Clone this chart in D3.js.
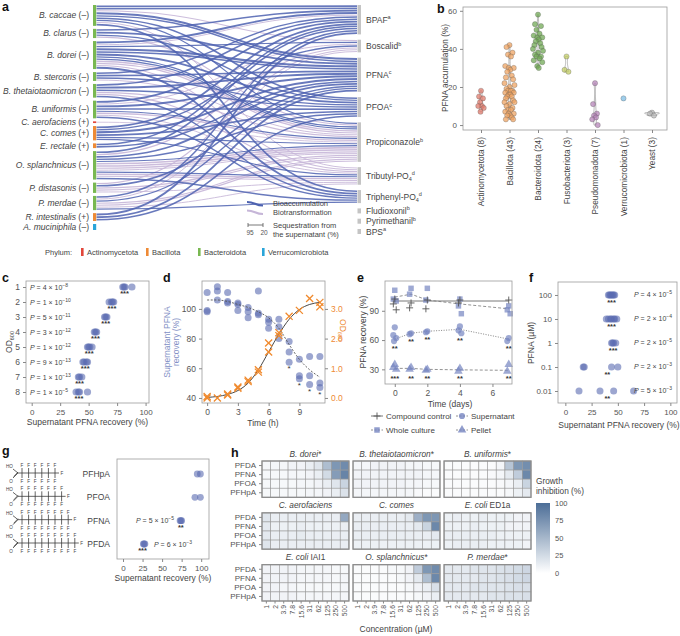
<!DOCTYPE html>
<html>
<head>
<meta charset="utf-8">
<script src="https://cdn.jsdelivr.net/npm/d3@7"></script>
<style>
  body { margin: 0; background: #fff; }
  svg text { font-family: "Liberation Sans", Arial, sans-serif; }
</style>
</head>
<body>
<svg id="fig" width="680" height="636"></svg>
<script>
// ---------------- panel a: species -> compound flows
const species = ["B. caccae","B. clarus","B. dorei","B. stercoris","B. thetaiotaomicron","B. uniformis","C. aerofaciens","C. comes","E. rectale","O. splanchnicus","P. distasonis","P. merdae","R. intestinalis","A. muciniphila"];
const speciesGram = ["–","–","–","–","–","–","+","+","+","–","–","–","+","–"];
const speciesPhylum = ["Bacteroidota","Bacteroidota","Bacteroidota","Bacteroidota","Bacteroidota","Bacteroidota","Actinomycetota","Bacillota","Bacillota","Bacteroidota","Bacteroidota","Bacteroidota","Bacillota","Verrucomicrobiota"];
const phyla = ["Actinomycetota","Bacillota","Bacteroidota","Verrucomicrobiota"];
const phylumColors = ["#e2463a","#ee8a35","#79b851","#2aa5d9"];
const compounds = ["BPAF","Boscalid","PFNA","PFOA","Propiconazole","Tributyl-PO4","Triphenyl-PO4","Fludioxonil","Pyrimethanil","BPS"];
const compoundSup = ["a","b","c","c","b","d","d","b","b","a"];
// [species, compound, type (acc = bioaccumulation, tra = biotransformation), % sequestered]
const flows = [
  ["B. caccae","BPAF","acc",70],["B. caccae","BPAF","acc",50],["B. caccae","Boscalid","tra",40],["B. caccae","PFNA","acc",80],["B. caccae","PFNA","acc",55],["B. caccae","PFOA","acc",60],["B. caccae","Propiconazole","acc",45],["B. caccae","Tributyl-PO4","tra",35],["B. caccae","Triphenyl-PO4","acc",65],
  ["B. clarus","BPAF","acc",60],["B. clarus","PFNA","acc",70],["B. clarus","PFOA","acc",50],["B. clarus","Propiconazole","tra",40],
  ["B. dorei","BPAF","acc",75],["B. dorei","BPAF","tra",35],["B. dorei","Boscalid","acc",45],["B. dorei","PFNA","acc",85],["B. dorei","PFNA","acc",60],["B. dorei","PFOA","acc",70],["B. dorei","Propiconazole","tra",55],["B. dorei","Propiconazole","tra",45],["B. dorei","Propiconazole","acc",50],["B. dorei","Propiconazole","acc",45],["B. dorei","Tributyl-PO4","tra",40],["B. dorei","Triphenyl-PO4","acc",70],
  ["B. stercoris","BPAF","acc",55],["B. stercoris","PFNA","acc",65],["B. stercoris","PFOA","acc",50],["B. stercoris","Propiconazole","tra",35],
  ["B. thetaiotaomicron","BPAF","acc",60],["B. thetaiotaomicron","PFNA","acc",70],["B. thetaiotaomicron","PFOA","acc",55],["B. thetaiotaomicron","Propiconazole","tra",45],["B. thetaiotaomicron","Tributyl-PO4","tra",40],["B. thetaiotaomicron","Triphenyl-PO4","acc",55],
  ["B. uniformis","BPAF","acc",65],["B. uniformis","Boscalid","tra",35],["B. uniformis","PFNA","acc",75],["B. uniformis","PFOA","acc",60],["B. uniformis","Propiconazole","tra",50],["B. uniformis","Propiconazole","acc",40],["B. uniformis","Tributyl-PO4","tra",35],["B. uniformis","Triphenyl-PO4","acc",50],
  ["C. aerofaciens","Propiconazole","tra",30],
  ["C. comes","BPAF","acc",70],["C. comes","Boscalid","acc",50],["C. comes","PFNA","acc",80],["C. comes","PFOA","acc",65],["C. comes","Propiconazole","acc",45],["C. comes","Tributyl-PO4","acc",40],
  ["E. rectale","BPAF","acc",55],["E. rectale","PFNA","acc",60],
  ["O. splanchnicus","BPAF","acc",60],["O. splanchnicus","Boscalid","tra",45],["O. splanchnicus","PFNA","acc",70],["O. splanchnicus","PFOA","acc",55],["O. splanchnicus","Propiconazole","tra",60],["O. splanchnicus","Propiconazole","tra",55],["O. splanchnicus","Propiconazole","tra",45],["O. splanchnicus","Propiconazole","tra",35],["O. splanchnicus","Propiconazole","acc",40],["O. splanchnicus","Tributyl-PO4","tra",50],["O. splanchnicus","Tributyl-PO4","tra",40],["O. splanchnicus","Tributyl-PO4","acc",45],["O. splanchnicus","Triphenyl-PO4","acc",55],
  ["P. distasonis","Boscalid","tra",40],["P. distasonis","PFNA","acc",60],["P. distasonis","Propiconazole","tra",50],["P. distasonis","Propiconazole","tra",40],["P. distasonis","Tributyl-PO4","tra",35],
  ["P. merdae","BPAF","acc",55],["P. merdae","Boscalid","tra",35],["P. merdae","PFNA","acc",50],["P. merdae","Propiconazole","tra",45],["P. merdae","Propiconazole","tra",40],["P. merdae","Tributyl-PO4","tra",35],["P. merdae","Triphenyl-PO4","acc",45],
  ["R. intestinalis","BPAF","acc",75],["R. intestinalis","PFNA","acc",70],["R. intestinalis","PFOA","acc",60]
];

// ---------------- panel b: PFNA accumulation by phylum
const bGroups = ["Actinomycetota","Bacillota","Bacteroidota","Fusobacteriota","Pseudomonadota","Verrucomicrobiota","Yeast"];
const bColors = ["#e07b6c","#efa463","#72aa55","#c3cd66","#b584b8","#7fbde4","#b9b9b9"];
const bActino = [18,15,14,12,10,10,9,7];
const bBacillota = [42,41,38,37,36,31,30,30,29,28,26,25,24,22,21,20,19,18,18,18,17,17,16,16,15,15,14,13,12,12,11,10,9,8,8,7,6,6,5,5,4,3,3];
const bBacteroidota = [58,53,52,50,48,47,46,46,45,44,43,42,41,40,39,38,37,36,36,35,34,33,31,30];
const bFuso = [36,29,28];
const bPseudo = [22,11,6,5,4,3,0];
const bVerruco = [14];
const bYeast = [6.5,6,5];
const bValues = [bActino,bBacillota,bBacteroidota,bFuso,bPseudo,bVerruco,bYeast];

// ---------------- panel c: recovery per OD600 harvest
const cOD = ["1","2","3","4","5","6","7","8"];
const cRecovery = [[80,81,82,88],[68,70,71,72],[64,65,66],[55,56,57],[49,50,51,53],[45,46,48,49],[41,42,44],[39,41,42,49]];
const cP = [["4","8"],["1","10"],["5","11"],["3","12"],["1","12"],["9","13"],["1","13"],["1","5"]];

// ---------------- panel d: time course
const dHours = [0,1,2,3,4,5,6,7,8,9,10,11];
const dSupernatant = [[111,99,98],[115,112,106],[111,105,104],[104,103,99],[101,98,94],[112,97,96],[93,91,87],[93,88,80],[78,71,64],[66,55,53],[68,55,49],[68,50,47]];
const dOD = [[0.05,0.0],[0.0],[0.13,0.1],[0.37,0.33],[0.6,0.55],[0.95,0.87],[1.85,1.55],[2.2,2.1],[2.75],[2.95],[3.35],[3.22,3.07]];
const dFitSup = [106,106,105,103,101,98,94,87,76,66,59,54];
const dFitOD = [0.02,0.05,0.12,0.25,0.5,0.95,1.55,2.15,2.65,2.98,3.15,3.22];
const dStarHours = [8,9,10,11];

// ---------------- panel e: fractions over days
const eDays = [0,1,2,4,7];
const eControl = [[102,97,91],[98,93],[101,92],[101,98],[101]];
const eWhole = [[111,102,100],[113,107],[113,101],[102,95,87],[95,91,87]];
const eSuper = [[73,65,62,59],[67,66],[69,68],[74,70,67],[62,59]];
const ePellet = [[35,32,30],[32,30],[30,29],[31,28],[35,28]];
const eWholeLine = [104,107,101,97,92];
const eSuperLine = [61,67,69,71,61];
const ePelletLine = [31,31,30,29.5,29];
const eSuperStars = ["**","**","**","**","**"];
const ePelletStars = ["***","**","**","**","**"];

// ---------------- panel f: concentration series
const fConc = [100,10,1,0.1,0.01];
const fRecovery = [[41,42,43,44,45,46,47],[39,41,43,44,46,47,49],[44,45,46,48],[17,18,44,50],[13,33,46,65]];
const fStars = ["***","***","***","**","**"];
const fP = [["4","5"],["2","4"],["2","5"],["2","3"],["5","3"]];

// ---------------- panel g: chain length
const gAcids = ["PFHpA","PFOA","PFNA","PFDA"];
const gCarbons = [7,8,9,10];
const gRecovery = [[95,99],[92,99],[73,74,75],[26,27,28]];

// ---------------- panel h: growth inhibition
const hConc = ["1","2","3.9","7.8","15.6","31","62","125","250","500"];
const hRows = ["PFDA","PFNA","PFOA","PFHpA"];
const hTitles = [["B. dorei","*"],["B. thetaiotaomicron","*"],["B. uniformis","*"],["C. aerofaciens",""],["C. comes",""],["E. coli"," ED1a"],["E. coli"," IAI1"],["O. splanchnicus","*"],["P. merdae","*"]];
const hValues = [
  [[6,6,6,8,8,12,18,45,72,80],[5,5,5,6,6,8,12,25,68,85],[5,5,5,5,6,6,8,12,18,30],[5,5,5,5,5,6,6,8,12,20]],
  [[6,6,8,8,8,8,6,6,5,5],[8,8,8,8,8,8,8,8,6,6],[8,8,8,8,8,8,6,6,5,5],[6,6,6,6,6,6,6,4,3,3]],
  [[3,3,3,3,3,3,6,40,72,78],[3,3,3,3,3,4,6,15,35,82],[3,3,3,3,3,3,4,6,12,30],[3,3,3,3,3,3,3,5,10,15]],
  [[18,12,12,12,12,12,12,12,12,60],[15,10,10,10,12,10,10,10,10,12],[15,12,12,12,14,12,12,12,12,12],[18,12,12,12,12,12,12,12,12,12]],
  [[12,12,12,12,12,12,15,55,72,72],[12,12,12,12,12,12,12,15,30,82],[12,12,12,12,12,12,12,12,12,15],[10,10,10,10,10,10,10,10,10,10]],
  [[10,12,10,10,12,10,10,10,8,8],[10,10,10,12,10,10,10,8,8,8],[12,12,12,12,12,12,10,10,10,10],[10,12,12,12,12,10,10,10,10,8]],
  [[8,8,8,8,6,6,6,6,5,5],[8,8,8,8,6,6,6,6,5,6],[8,8,6,6,5,5,5,5,5,6],[8,8,8,8,6,6,6,6,6,6]],
  [[3,3,3,3,5,5,8,35,72,80],[3,3,3,3,3,5,8,15,45,82],[3,3,3,3,3,3,5,8,12,22],[3,3,3,3,3,3,3,5,8,12]],
  [[15,15,15,18,18,18,20,22,25,28],[15,15,15,15,18,18,20,22,25,28],[15,15,15,18,18,18,18,20,22,22],[15,15,15,15,15,18,18,20,20,22]]
];
const hLegendTicks = [0,25,50,75,100];

// ---------------- helpers
const FONT = '"Liberation Sans", Arial, sans-serif';
const INK = "#444";
const DOT = "#5a6bb0";
const svg = d3.select("#fig");
svg.append("rect").attr("width", 680).attr("height", 636).attr("fill", "#fff");
const jit = [0,-2.4,2.4,-1.2,1.2,-3.4,3.4,-0.6,0.6,-1.8,1.8,-2.9,2.9,-4,4];

function letter(x, y, t) {
  svg.append("text").attr("x", x).attr("y", y).attr("font-size", 12.5)
    .attr("font-weight", "bold").attr("fill", "#111").text(t);
}
function txt(g, x, y, s, size, anchor, color) {
  return g.append("text").attr("x", x).attr("y", y).attr("font-size", size)
    .attr("text-anchor", anchor || "start").attr("fill", color || INK).text(s);
}
function frame(x0, y0, x1, y1) {
  svg.append("rect").attr("x", x0).attr("y", y0).attr("width", x1 - x0).attr("height", y1 - y0)
    .attr("fill", "none").attr("stroke", "#9c9c9c").attr("stroke-width", 0.8);
}
function axis(gen, tx, ty, size, color) {
  const g = svg.append("g").attr("transform", `translate(${tx},${ty})`).call(gen);
  g.select(".domain").remove();
  g.attr("font-family", FONT).attr("font-size", size || 8);
  g.selectAll(".tick line").attr("stroke", "#888");
  g.selectAll(".tick text").attr("fill", color || "#555");
  return g;
}
function pLabel(g, x, y, m, e, anchor) {
  const t = g.append("text").attr("x", x).attr("y", y).attr("font-size", 7)
    .attr("text-anchor", anchor || "start").attr("fill", INK);
  t.append("tspan").attr("font-style", "italic").text("P");
  t.append("tspan").text(" = " + m + " × 10");
  t.append("tspan").attr("dy", -3).attr("font-size", 5).text("−" + e);
}
function stars(g, x, y, s) {
  txt(g, x, y, s, 7.5, "middle", "#333").attr("font-weight", "bold");
}
function vLabel(g, x, y, s, size, rot, color) {
  return g.append("text").attr("transform", `translate(${x},${y}) rotate(${rot})`)
    .attr("text-anchor", "middle").attr("font-size", size).attr("fill", color || INK).text(s);
}

// =============== panel a ===============
(function () {
  const g = svg.append("g");
  letter(2, 11, "a");
  const xL = 96.5, xR = 357;
  const wScale = d3.scaleLinear().domain([20, 95]).range([0.6, 2.4]);
  const links = flows.map(([s, c, t, v]) => ({ s, c, t, v, w: wScale(v) }));

  // stack links into nodes; node padding fixed, gap between links fills the rest
  function layoutSide(names, key, otherOrder, y0, y1, pad, minH, yKey) {
    const groups = names.map(n => links.filter(l => key(l) === n)
      .sort((a, b) => otherOrder(a) - otherOrder(b) || d3.ascending(a.t, b.t)));
    const empty = groups.filter(gr => !gr.length).length;
    const lg = (y1 - y0 - pad * (names.length - 1) - empty * minH - d3.sum(links, l => l.w)) / links.length;
    let y = y0;
    return names.map((n, i) => {
      const h = groups[i].length ? d3.sum(groups[i], l => l.w + lg) : minH;
      const node = { name: n, y0: y, y1: y + h };
      let yy = y + lg / 2;
      groups[i].forEach(l => { l[yKey] = yy + l.w / 2; yy += l.w + lg; });
      y += h + pad;
      return node;
    });
  }
  const left = layoutSide(species, l => l.s, l => compounds.indexOf(l.c), 5, 230, 3, 6, "ys");
  const right = layoutSide(compounds, l => l.c, l => species.indexOf(l.s), 5, 234, 5.3, 5, "yt");

  const link = d3.linkHorizontal().x(d => d[0]).y(d => d[1]);
  const ordered = links.filter(l => l.t === "tra").concat(links.filter(l => l.t === "acc"));
  g.selectAll("path.flow").data(ordered).enter().append("path")
    .attr("d", l => link({ source: [xL, l.ys], target: [xR, l.yt] }))
    .attr("fill", "none")
    .attr("stroke", l => l.t === "acc" ? "#4d62b0" : "#c6b6d8")
    .attr("stroke-opacity", l => l.t === "acc" ? 0.85 : 0.9)
    .attr("stroke-width", l => l.w);

  // species bars + labels
  left.forEach((n, i) => {
    g.append("rect").attr("x", 93).attr("y", n.y0).attr("width", 3.2).attr("height", n.y1 - n.y0)
      .attr("fill", phylumColors[phyla.indexOf(speciesPhylum[i])]);
    const t = g.append("text").attr("x", 89).attr("y", (n.y0 + n.y1) / 2 + 3)
      .attr("text-anchor", "end").attr("font-size", 8.5).attr("fill", INK);
    t.append("tspan").attr("font-style", "italic").text(n.name);
    t.append("tspan").text(" (" + speciesGram[i] + ")");
  });
  // compound bars + labels
  right.forEach((n, i) => {
    g.append("rect").attr("x", 357.5).attr("y", n.y0).attr("width", 3.5).attr("height", n.y1 - n.y0)
      .attr("fill", "#c4c4c4");
    const t = g.append("text").attr("x", 366).attr("y", (n.y0 + n.y1) / 2 + 3)
      .attr("font-size", 8.5).attr("fill", INK);
    if (n.name.endsWith("PO4")) {
      t.append("tspan").text(n.name.slice(0, -1));
      t.append("tspan").attr("dy", 2).attr("font-size", 5.5).text("4");
      t.append("tspan").attr("dy", -6).attr("font-size", 5.5).text(compoundSup[i]);
    } else {
      t.append("tspan").text(n.name);
      t.append("tspan").attr("dy", -3.5).attr("font-size", 5.5).text(compoundSup[i]);
    }
  });

  // flow legend
  g.append("path").attr("d", link({ source: [247, 202], target: [263, 205.5] }))
    .attr("fill", "none").attr("stroke", "#4d62b0").attr("stroke-width", 2);
  g.append("path").attr("d", link({ source: [247, 210.5], target: [263, 214] }))
    .attr("fill", "none").attr("stroke", "#c6b6d8").attr("stroke-width", 2);
  txt(g, 273, 206, "Bioaccumulation", 7.5);
  txt(g, 273, 215, "Biotransformation", 7.5);
  g.append("path").attr("d", "M248,223V227M248,225H263M263,223V227").attr("stroke", "#555").attr("stroke-width", 0.8).attr("fill", "none");
  txt(g, 250, 235, "95", 6.5, "middle", "#555");
  txt(g, 264, 235, "20", 6.5, "middle", "#555");
  txt(g, 273, 228, "Sequestration from", 7.5);
  txt(g, 273, 237, "the supernatant (%)", 7.5);

  // phylum legend
  txt(g, 45, 255, "Phylum:", 7.5);
  const lx = [81, 146, 198, 262];
  phyla.forEach((p, i) => {
    g.append("rect").attr("x", lx[i]).attr("y", 248).attr("width", 2.6).attr("height", 8).attr("fill", phylumColors[i]);
    txt(g, lx[i] + 6, 255, p, 7.5);
  });
})();

// =============== panel b ===============
(function () {
  const g = svg.append("g");
  letter(437, 13, "b");
  const x = d3.scalePoint().domain(bGroups).range([481, 652]);
  const y = d3.scaleLinear().domain([-2.6, 62]).range([130, 7]);
  frame(463, 7, 667, 130);
  axis(d3.axisLeft(y).tickValues([0, 20, 40, 60]).tickSize(3), 463, 0, 8);
  axis(d3.axisBottom(x).tickSize(3).tickFormat(() => ""), 0, 130, 8);
  bGroups.forEach((gr, i) => {
    g.append("text").attr("transform", `translate(${x(gr) + 3},137) rotate(-90)`)
      .attr("text-anchor", "end").attr("font-size", 8.3).attr("fill", INK)
      .text(gr + " (" + bValues[i].length + ")");
  });
  vLabel(g, 448, 68, "PFNA accumulation (%)", 8.3, -90);

  // violins (gaussian kde, ggplot-like bandwidth, area scaled)
  const dens = bValues.map(vals => {
    if (vals.length < 2) return null;
    const sorted = vals.slice().sort(d3.ascending);
    const sd = d3.deviation(vals);
    const iqr = (d3.quantile(sorted, 0.75) - d3.quantile(sorted, 0.25)) / 1.34;
    const bw = 0.9 * Math.min(sd, iqr || sd) * Math.pow(vals.length, -0.2);
    const lo = d3.min(vals), hi = d3.max(vals);
    return d3.range(0, 41).map(k => {
      const v = lo + (hi - lo) * k / 40;
      const d = d3.mean(vals, u => Math.exp(-0.5 * ((v - u) / bw) ** 2)) / (bw * Math.sqrt(2 * Math.PI));
      return { v, d };
    });
  });
  const dMax = d3.max(dens, ds => ds ? d3.max(ds, p => p.d) : 0);
  dens.forEach((ds, i) => {
    if (!ds) return;
    const cx = x(bGroups[i]);
    g.append("path").datum(ds)
      .attr("d", d3.area().y(p => y(p.v)).x0(p => cx - 7 * p.d / dMax - 0.4).x1(p => cx + 7 * p.d / dMax + 0.4).curve(d3.curveBasis))
      .attr("fill", "#fff").attr("stroke", "#9a9a9a").attr("stroke-width", 0.7);
  });
  bValues.forEach((vals, i) => {
    const cx = x(bGroups[i]);
    const spread = vals.length > 20 ? 1.25 : 0.8;
    g.selectAll(null).data(vals).enter().append("circle")
      .attr("cx", (v, k) => cx + jit[k % jit.length] * spread)
      .attr("cy", v => y(v)).attr("r", 2.6)
      .attr("fill", bColors[i]).attr("fill-opacity", 0.75)
      .attr("stroke", "#555").attr("stroke-width", 0.3);
  });
})();

// =============== panel c ===============
(function () {
  const g = svg.append("g");
  letter(2, 282, "c");
  const x = d3.scaleLinear().domain([-5, 103]).range([26, 149]);
  const y = d3.scalePoint().domain(cOD).range([287, 392]);
  frame(26, 281, 149, 403);
  axis(d3.axisBottom(x).tickValues([0, 25, 50, 75, 100]).tickSize(3), 0, 403, 8);
  axis(d3.axisLeft(y).tickSize(3), 26, 0, 8.5);
  txt(g, 87.5, 425, "Supernatant PFNA recovery (%)", 8.5, "middle");
  const ol = g.append("text").attr("transform", "translate(12,342) rotate(-90)").attr("text-anchor", "middle").attr("font-size", 8.5).attr("fill", INK);
  ol.append("tspan").text("OD");
  ol.append("tspan").attr("dy", 2).attr("font-size", 5.5).text("600");
  cOD.forEach((od, i) => {
    const vals = cRecovery[i];
    g.selectAll(null).data(vals).enter().append("circle")
      .attr("cx", v => x(v)).attr("cy", y(od)).attr("r", 3.6)
      .attr("fill", DOT).attr("fill-opacity", 0.6);
    stars(g, x(d3.median(vals)), y(od) + 9, "***");
    pLabel(g, 30, y(od) + 2.5, cP[i][0], cP[i][1]);
  });
})();

// =============== panel d ===============
(function () {
  const g = svg.append("g");
  letter(163, 282, "d");
  const x = d3.scaleLinear().domain([-0.5, 11.5]).range([202, 325]);
  const yL = d3.scaleLinear().domain([36.6, 118.8]).range([403, 281]);
  const yR = d3.scaleLinear().domain([(36.6 - 40) / 20, (118.8 - 40) / 20]).range([403, 281]);
  frame(202, 281, 325, 403);
  axis(d3.axisBottom(x).tickValues([0, 3, 6, 9]).tickSize(3), 0, 403, 8.5);
  axis(d3.axisLeft(yL).tickValues([40, 60, 80, 100]).tickSize(3), 202, 0, 8.5);
  axis(d3.axisRight(yR).tickValues([0, 1, 2, 3]).tickSize(3), 325, 0, 8.5, "#ee8a35");
  txt(g, 263, 426, "Time (h)", 8.5, "middle");
  vLabel(g, 170, 342, "Supernatant PFNA", 8.5, -90, "#8391c6");
  vLabel(g, 179, 342, "recovery (%)", 8.5, -90, "#8391c6");
  const od = g.append("text").attr("transform", "translate(340,330) rotate(90)").attr("text-anchor", "middle").attr("font-size", 8.5).attr("fill", "#ee8a35");
  od.append("tspan").text("OD");
  od.append("tspan").attr("dy", 2).attr("font-size", 5.5).text("600");

  dHours.forEach((h, i) => {
    g.selectAll(null).data(dSupernatant[i]).enter().append("circle")
      .attr("cx", x(h)).attr("cy", v => yL(v)).attr("r", 3.5)
      .attr("fill", DOT).attr("fill-opacity", 0.6);
  });
  g.append("path").datum(dFitSup)
    .attr("d", d3.line().x((v, i) => x(dHours[i])).y(v => yL(v)).curve(d3.curveMonotoneX))
    .attr("fill", "none").attr("stroke", "#555").attr("stroke-width", 0.9).attr("stroke-dasharray", "2,1.6");
  g.append("path").datum(dFitOD)
    .attr("d", d3.line().x((v, i) => x(dHours[i])).y(v => yR(v)).curve(d3.curveMonotoneX))
    .attr("fill", "none").attr("stroke", "#333").attr("stroke-width", 0.9);
  dHours.forEach((h, i) => {
    g.selectAll(null).data(dOD[i]).enter().append("path")
      .attr("transform", v => `translate(${x(h)},${yR(v)})`)
      .attr("d", d3.symbol(d3.symbolX, 34)())
      .attr("fill", "none").attr("stroke", "#f08a2e").attr("stroke-width", 1.3);
  });
  dStarHours.forEach(h => {
    const i = dHours.indexOf(h);
    txt(g, x(h), yL(d3.min(dSupernatant[i])) + 9, "*", 8, "middle", "#333");
  });
})();

// =============== panel e ===============
(function () {
  const g = svg.append("g");
  letter(357, 282, "e");
  const x = d3.scaleLinear().domain([-0.6, 7.2]).range([385, 512]);
  const y = d3.scaleLinear().domain([15, 120.5]).range([384, 281]);
  frame(385, 281, 512, 384);
  axis(d3.axisBottom(x).tickValues([0, 2, 4, 6]).tickSize(3), 0, 384, 8.5);
  axis(d3.axisLeft(y).tickValues([30, 60, 90]).tickSize(3), 385, 0, 8.5);
  txt(g, 450, 407, "Time (days)", 8.5, "middle");
  vLabel(g, 366, 332, "PFNA recovery (%)", 8.5, -90);
  const col = "#7584c0";
  const line = d3.line().x((v, i) => x(eDays[i])).y(v => y(v));
  g.append("path").datum(eDays.map(() => 100)).attr("d", line).attr("fill", "none").attr("stroke", "#555").attr("stroke-width", 0.8);
  g.append("path").datum(eWholeLine).attr("d", line).attr("fill", "none").attr("stroke", "#777").attr("stroke-width", 0.8).attr("stroke-dasharray", "3,2");
  g.append("path").datum(eSuperLine).attr("d", line).attr("fill", "none").attr("stroke", "#777").attr("stroke-width", 0.9).attr("stroke-dasharray", "1,1.5");
  g.append("path").datum(ePelletLine).attr("d", line).attr("fill", "none").attr("stroke", "#777").attr("stroke-width", 0.8).attr("stroke-dasharray", "3,2");
  const sq = d3.symbol(d3.symbolSquare, 30)();
  const ci = d3.symbol(d3.symbolCircle, 30)();
  const tr = d3.symbol(d3.symbolTriangle, 32)();
  const plus = "M-3.5,0H3.5M0,-3.5V3.5";
  function pts(data, shape, fill, stroke) {
    eDays.forEach((d, i) => {
      g.selectAll(null).data(data[i]).enter().append("path")
        .attr("transform", (v, k) => `translate(${x(d) + jit[k % 5] * 0.6},${y(v)})`)
        .attr("d", shape)
        .attr("fill", fill).attr("fill-opacity", 0.7)
        .attr("stroke", stroke || "none").attr("stroke-width", 0.9);
    });
  }
  pts(eWhole, sq, col);
  pts(eSuper, ci, col);
  pts(ePellet, tr, col);
  pts(eControl, plus, "none", "#555");
  eDays.forEach((d, i) => {
    stars(g, x(d), y(d3.min(eSuper[i])) + 10, eSuperStars[i]);
    stars(g, x(d), 381, ePelletStars[i]);
  });
  // legend
  const items = [["Compound control", plus, 377, 419, true], ["Whole culture", sq, 377, 433], ["Supernatant", ci, 462, 419], ["Pellet", tr, 462, 433]];
  items.forEach(([label, shape, lx, ly, isCtl]) => {
    g.append("line").attr("x1", lx - 6).attr("x2", lx + 6).attr("y1", ly - 3).attr("y2", ly - 3)
      .attr("stroke", isCtl ? "#555" : "#777").attr("stroke-width", 0.8).attr("stroke-dasharray", isCtl ? null : "2,1.5");
    g.append("path").attr("transform", `translate(${lx},${ly - 3})`).attr("d", shape)
      .attr("fill", isCtl ? "none" : col).attr("fill-opacity", 0.8)
      .attr("stroke", isCtl ? "#555" : "none").attr("stroke-width", 0.9);
    txt(g, lx + 9, ly, label, 8);
  });
})();

// =============== panel f ===============
(function () {
  const g = svg.append("g");
  letter(529, 282, "f");
  const x = d3.scaleLinear().domain([-7, 105]).range([558, 675.6]);
  const y = d3.scaleLog().domain([0.00316, 347]).range([403, 282]);
  frame(558, 282, 677, 403);
  axis(d3.axisBottom(x).tickValues([0, 25, 50, 75, 100]).tickSize(3), 0, 403, 8);
  axis(d3.axisLeft(y).tickValues(fConc).tickFormat(d => String(d)).tickSize(3), 558, 0, 8);
  txt(g, 619, 428, "Supernatant PFNA recovery (%)", 8.5, "middle");
  vLabel(g, 534, 343, "PFNA (µM)", 8.5, -90);
  fConc.forEach((c, i) => {
    g.selectAll(null).data(fRecovery[i]).enter().append("circle")
      .attr("cx", v => x(v)).attr("cy", y(c)).attr("r", 3.5)
      .attr("fill", DOT).attr("fill-opacity", 0.6);
    const sx = i < 3 ? x(d3.median(fRecovery[i])) : x(40);
    stars(g, sx, y(c) + 10, fStars[i]);
    pLabel(g, 634, y(c) + 2.5, fP[i][0], fP[i][1]);
  });
})();

// =============== panel g ===============
(function () {
  const g = svg.append("g");
  letter(2, 455, "g");
  const x = d3.scaleLinear().domain([-7.7, 110]).range([117, 209]);
  const y = d3.scalePoint().domain(gAcids).range([474, 544]);
  frame(117, 459, 209, 559);
  axis(d3.axisBottom(x).tickValues([0, 25, 50, 75, 100]).tickSize(3), 0, 559, 8);
  txt(g, 163, 581, "Supernatant recovery (%)", 8.5, "middle");
  gAcids.forEach((name, i) => {
    const cy = y(name);
    txt(g, 110, cy + 3, name, 8.5, "end");
    g.selectAll(null).data(gRecovery[i]).enter().append("circle")
      .attr("cx", v => x(v)).attr("cy", cy).attr("r", 3.4)
      .attr("fill", DOT).attr("fill-opacity", 0.6);
    // simplified skeletal structure
    const n = gCarbons[i] - 1, dx = 6.6, x0 = 18, yy = cy - 1;
    const xe = x0 + 4 + (n - 1) * dx + 4;
    let d = `M13,${yy - 4}L${x0},${yy}M13,${yy + 5}L${x0},${yy}M13.8,${yy + 3.5}L${x0},${yy - 1}M${x0},${yy}H${xe}`;
    for (let k = 0; k < n; k++) {
      const cx = x0 + 4 + k * dx;
      d += `M${cx},${yy - 5}V${yy + 5}`;
      txt(g, cx, yy - 6, "F", 4.6, "middle", "#444");
      txt(g, cx, yy + 10, "F", 4.6, "middle", "#444");
    }
    g.append("path").attr("d", d).attr("stroke", "#333").attr("stroke-width", 0.75).attr("fill", "none");
    txt(g, xe + 2.8, yy + 1.7, "F", 4.6, "middle", "#444");
    txt(g, 9.5, yy - 5, "HO", 4.6, "middle", "#444");
    txt(g, 11, yy + 9.5, "O", 4.6, "middle", "#444");
  });
  pLabel(g, 174, y("PFNA") + 2.5, "5", "5", "end");
  stars(g, x(74), y("PFNA") + 9, "**");
  pLabel(g, 154, y("PFDA") + 2.5, "6", "3");
  stars(g, x(25), y("PFDA") + 9, "***");
})();

// =============== panel h ===============
(function () {
  const g = svg.append("g");
  letter(231, 457, "h");
  const hColor = d3.scaleLinear().domain([0, 100]).range(["#ffffff", "#4c6e97"]);
  const bx = d3.scaleBand().domain([0, 1, 2]).range([262, 531]).paddingInner(0.045);
  const by = d3.scaleBand().domain([0, 1, 2]).range([461, 601]).paddingInner(0.3);
  hTitles.forEach((title, k) => {
    const c = k % 3, r = Math.floor(k / 3);
    const x0 = bx(c), y0 = by(r);
    const cx = d3.scaleBand().domain(hConc).range([x0, x0 + bx.bandwidth()]);
    const ry = d3.scaleBand().domain(hRows).range([y0, y0 + by.bandwidth()]);
    hRows.forEach((row, ri) => {
      g.selectAll(null).data(hValues[k][ri]).enter().append("rect")
        .attr("x", (v, j) => cx(hConc[j])).attr("y", ry(row))
        .attr("width", cx.bandwidth()).attr("height", ry.bandwidth())
        .attr("fill", v => hColor(v)).attr("stroke", "#9b9b9b").attr("stroke-width", 0.6);
    });
    g.append("rect").attr("x", x0).attr("y", y0).attr("width", bx.bandwidth()).attr("height", by.bandwidth())
      .attr("fill", "none").attr("stroke", "#8c8c8c").attr("stroke-width", 1.3);
    const t = g.append("text").attr("x", x0 + bx.bandwidth() / 2).attr("y", y0 - 4.5)
      .attr("text-anchor", "middle").attr("font-size", 8.3).attr("fill", INK);
    t.append("tspan").attr("font-style", "italic").text(title[0]);
    if (title[1]) t.append("tspan").text(title[1]);
    if (c === 0) {
      axis(d3.axisLeft(ry).tickSize(3), x0, 0, 8);
    }
    if (r === 2) {
      hConc.forEach(cc => {
        g.append("line").attr("x1", cx(cc) + cx.bandwidth() / 2).attr("x2", cx(cc) + cx.bandwidth() / 2)
          .attr("y1", y0 + by.bandwidth()).attr("y2", y0 + by.bandwidth() + 2.5).attr("stroke", "#888");
        g.append("text").attr("transform", `translate(${cx(cc) + cx.bandwidth() / 2 + 2.5},${y0 + by.bandwidth() + 4}) rotate(-90)`)
          .attr("text-anchor", "end").attr("font-size", 6.8).attr("fill", "#555").text(cc);
      });
    }
  });
  txt(g, 396, 632, "Concentration (µM)", 8.5, "middle");

  // legend
  txt(g, 536, 484, "Growth", 8.3);
  txt(g, 536, 494, "inhibition (%)", 8.3);
  const grad = svg.append("defs").append("linearGradient").attr("id", "hgrad")
    .attr("x1", 0).attr("y1", 1).attr("x2", 0).attr("y2", 0);
  hLegendTicks.forEach(v => grad.append("stop").attr("offset", v / 100).attr("stop-color", hColor(v)));
  const ly = d3.scaleLinear().domain([0, 100]).range([573, 503]);
  g.append("rect").attr("x", 536).attr("y", 503).attr("width", 14).attr("height", 70).attr("fill", "url(#hgrad)");
  const la = axis(d3.axisRight(ly).tickValues(hLegendTicks).tickSize(2), 550, 0, 7.5);
  la.selectAll(".tick line").attr("stroke", "#fff");
})();
</script>
</body>
</html>
